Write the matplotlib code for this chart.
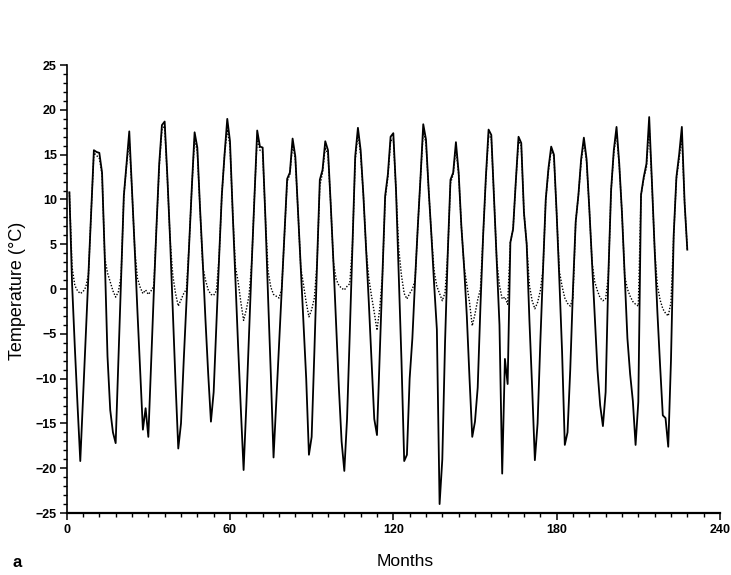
import numpy as np
import matplotlib.pyplot as plt
from matplotlib.ticker import MultipleLocator

# monthly temperature, months 1..228 (one row per 12 months)
air_temp = [
    10.8, 0.5, -6.5, -13.0, -19.2, -12.3, -5.3, 1.6, 8.6, 15.5, 15.3, 15.2,
    13.0, 3.5, -7.5, -13.5, -16.0, -17.2, -8.0, 1.5, 10.4, 14.0, 17.6, 11.0,
    4.5, -2.5, -9.0, -15.7, -13.3, -16.5, -8.5, -0.5, 7.0, 14.0, 18.3, 18.7,
    12.5, 5.5, -2.5, -10.5, -17.8, -15.0, -8.0, -1.5, 5.0, 11.5, 17.5, 15.8,
    9.0, 3.0, -3.5, -9.5, -14.8, -11.5, -4.0, 3.5, 10.5, 15.0, 19.0, 16.5,
    8.5, 1.0, -6.5, -13.5, -20.2, -13.0, -5.0, 3.0, 10.5, 17.7, 15.9, 15.8,
    8.0, -1.0, -9.5, -18.8, -12.6, -6.4, -0.2, 6.0, 12.3, 13.0, 16.8, 14.8,
    8.6, 2.4, -3.8, -10.0, -18.5, -16.5, -7.0, 3.0, 12.2, 13.3, 16.5, 15.5,
    9.5, 3.0, -4.0, -11.0, -17.0, -20.3, -14.5, -5.0, 5.0, 14.8, 18.0, 15.5,
    10.5, 4.5, -1.5, -8.0, -14.5, -16.3, -7.5, 1.5, 10.4, 12.8, 17.0, 17.4,
    11.0, 1.5, -8.0, -19.2, -18.5, -10.0, -5.5, 1.0, 7.0, 12.5, 18.4, 16.7,
    11.0, 6.0, 0.5, -4.5, -24.0, -19.0, -6.0, 4.0, 12.2, 13.0, 16.4, 13.0,
    7.0, 2.5, -3.0, -10.0, -16.5, -14.8, -11.0, -2.0, 6.0, 12.5, 17.8, 17.2,
    10.2, 3.2, -4.0, -20.6, -7.8, -10.6, 5.2, 6.7, 12.0, 17.0, 16.3, 8.5,
    5.0, -3.5, -11.0, -19.1, -15.0, -6.0, 2.2, 10.0, 13.5, 15.9, 15.0, 8.5,
    1.0, -7.0, -17.4, -16.0, -9.0, 0.0, 7.5, 10.5, 14.5, 16.9, 14.5, 9.0,
    3.0, -3.0, -9.0, -13.0, -15.3, -11.5, 1.5, 11.0, 15.5, 18.1, 14.0, 8.5,
    1.5, -5.5, -9.5, -12.5, -17.4, -12.6, 10.5, 12.5, 14.0, 19.2, 12.0, 4.5,
    -2.5, -8.5, -14.1, -14.4, -17.6, -8.0, 6.0, 12.5, 15.0, 18.1, 9.7, 4.4,
]

# second (dotted) series, damped in winter
sub_temp = [
    10.8, 2.4, 0.4, -0.2, -0.5, -0.3, 0.2, 1.6, 8.6, 15.2, 14.9, 14.6,
    12.8, 3.5, 1.8, 0.8, -0.2, -0.9, -0.3, 1.5, 10.4, 13.8, 16.6, 11.0,
    4.5, 1.2, 0.2, -0.5, -0.1, -0.6, -0.2, 0.3, 7.0, 13.6, 17.8, 18.2,
    12.3, 5.5, 1.5, -0.5, -1.9, -1.2, -0.5, 0.0, 5.0, 11.5, 16.8, 15.3,
    9.0, 2.5, 1.0, -0.1, -0.6, -0.7, -0.2, 3.5, 10.5, 15.0, 17.8, 16.0,
    8.5, 2.5, 0.8, -1.5, -3.5, -2.3, -0.7, 3.0, 10.5, 17.0, 15.5, 15.3,
    8.0, 2.0, 0.2, -0.6, -0.8, -1.0, 0.0, 6.0, 12.0, 12.8, 16.2, 14.5,
    8.6, 2.4, 0.5, -1.5, -3.1, -2.3, -1.0, 3.0, 11.5, 13.0, 15.8, 15.0,
    9.5, 3.0, 1.1, 0.4, 0.1, -0.1, 0.3, 0.6, 5.0, 14.3, 17.4, 15.0,
    10.5, 4.5, 1.2, -0.8, -2.6, -4.6, -2.2, 1.5, 10.0, 12.5, 16.5, 16.8,
    11.0, 4.5, 1.5, -0.5, -1.1, -0.5, 0.0, 1.0, 7.0, 12.5, 17.6, 16.3,
    11.0, 6.0, 2.0, 0.3, -0.5, -1.3, -0.4, 4.0, 11.8, 12.8, 15.8, 12.8,
    7.0, 2.5, 0.5, -1.5, -4.1, -2.8, -1.2, 0.0, 6.0, 12.3, 17.2, 16.8,
    10.2, 3.2, 0.4, -1.1, -0.9, -1.7, 5.2, 6.7, 12.0, 16.5, 16.0, 8.5,
    5.0, 0.4, -1.3, -2.2, -1.5, -0.2, 2.2, 10.0, 13.2, 15.5, 14.8, 8.5,
    2.0, 0.3, -1.0, -1.6, -1.9, -1.0, 7.5, 10.5, 14.2, 16.4, 14.2, 9.0,
    3.0, 0.8, -0.2, -1.0, -1.3, -1.1, 1.5, 11.0, 15.2, 17.4, 13.8, 8.5,
    1.5, 0.0, -0.8, -1.4, -1.7, -1.9, 10.5, 12.3, 13.6, 18.2, 11.8, 4.5,
    0.4, -1.2, -2.2, -2.7, -3.0, -1.5, 6.0, 12.3, 14.5, 17.0, 9.7, 4.4,
]

months = np.arange(1, len(air_temp) + 1)

xticks = [0, 60, 120, 180, 240]
yticks = [-25, -20, -15, -10, -5, 0, 5, 10, 15, 20, 25]

narrow = ['Liberation Sans Narrow', 'Liberation Sans', 'DejaVu Sans']
plt.rcParams['font.family'] = ['Liberation Sans', 'DejaVu Sans']

fig = plt.figure(figsize=(7.31, 5.75), dpi=100)
ax = fig.add_axes([0.0912, 0.1078, 0.8937, 0.779])

ax.plot(months, sub_temp, color='black', linestyle=(0, (1, 1.2)), linewidth=1.0)
ax.plot(months, air_temp, color='black', linewidth=1.3)

ax.set_xlim(0, 240)
ax.set_ylim(-25, 25)
ax.set_xticks(xticks)
ax.set_yticks(yticks)
ax.xaxis.set_minor_locator(MultipleLocator(6))
ax.yaxis.set_minor_locator(MultipleLocator(1))

for s in ['top', 'right']:
    ax.spines[s].set_visible(False)
ax.spines['left'].set_linewidth(1.2)
ax.spines['bottom'].set_linewidth(1.6)

ax.tick_params(which='major', direction='out', length=5, width=1.1, pad=2)
ax.tick_params(which='minor', direction='out', length=3.2, width=1.0)
ax.tick_params(axis='x', which='major', pad=3)
for lab in ax.get_xticklabels() + ax.get_yticklabels():
    lab.set_family(narrow)
    lab.set_fontsize(9)
    lab.set_fontweight('bold')

fig.text(18 / 731, 0.494, 'Temperature (°C)', rotation=90, ha='center',
         va='center', fontsize=13)
fig.text(0.554, 0.024, 'Months', ha='center', va='center', fontsize=12.5)
fig.text(0.024, 0.022, 'a', ha='center', va='center', fontsize=12,
         fontweight='bold')

fig.savefig('out.png', dpi=100)
